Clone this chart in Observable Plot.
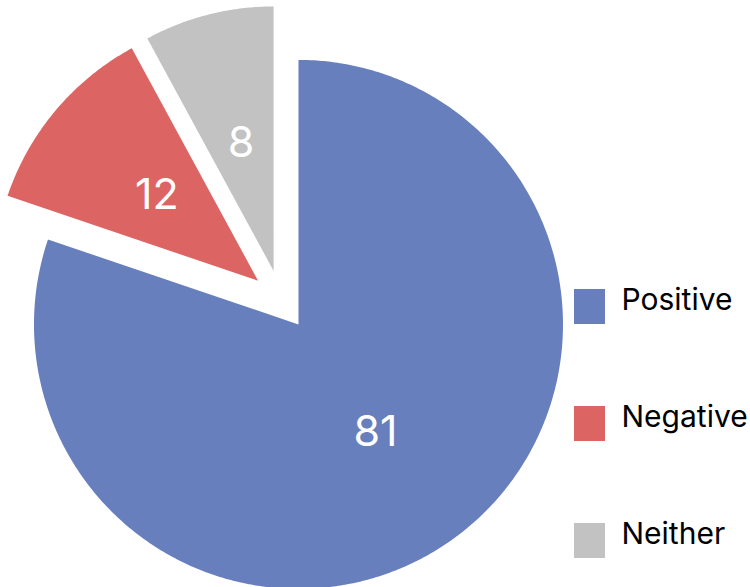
<!DOCTYPE html>
<html><head><meta charset="utf-8">
<script src="https://cdn.jsdelivr.net/npm/d3@7"></script>
<script src="https://cdn.jsdelivr.net/npm/@observablehq/plot@0.6"></script>
<style>html,body{margin:0;padding:0;background:#fff;overflow:hidden}</style>
</head><body><div id="chart"></div>
<script>
const categories = ["Positive", "Negative", "Neither"];
const values = [81, 12, 8];
const colors = ["#687fbd", "#dc6564", "#c2c2c2"];

const W = 750, H = 587;
const cx = 280.5, cy = 299.5, R = 264.5, explode = 30, labelFrac = 0.5;
const legendX = 574, legendTop = 289, legendStep = 117, swW = 31, swH = 35, legendTextX = 621;

const arcs = d3.pie().sort(null).value(d => d)(values);
const slicePts = [];
const labels = [];
arcs.forEach((a, i) => {
  const cat = categories[i];
  const mid = (a.startAngle + a.endAngle) / 2;
  const ox = cx + explode * Math.sin(mid), oy = cy - explode * Math.cos(mid);
  slicePts.push({cat, x: ox, y: oy});
  const n = Math.max(2, Math.ceil((a.endAngle - a.startAngle) / (Math.PI / 360)));
  for (let k = 0; k <= n; k++) {
    const t = a.startAngle + (a.endAngle - a.startAngle) * k / n;
    slicePts.push({cat, x: ox + R * Math.sin(t), y: oy - R * Math.cos(t)});
  }
  labels.push({cat, value: values[i], x: ox + R * labelFrac * Math.sin(mid), y: oy - R * labelFrac * Math.cos(mid)});
});

const legend = categories.map((cat, i) => ({
  cat,
  x1: legendX, x2: legendX + swW,
  y1: legendTop + i * legendStep, y2: legendTop + i * legendStep + swH,
  tx: legendTextX, ty: legendTop + i * legendStep + 11
}));

const chart = Plot.plot({
  width: W, height: H, margin: 0,
  x: {type: "linear", domain: [0, W], range: [0, W], axis: null},
  y: {type: "linear", domain: [0, H], range: [0, H], axis: null},
  color: {domain: categories, range: colors},
  style: {fontFamily: "Inter, 'Open Sans', sans-serif", background: "#fff"},
  marks: [
    Plot.line(slicePts, {x: "x", y: "y", z: "cat", fill: "cat", stroke: "none", curve: "linear-closed"}),
    Plot.text(labels, {x: "x", y: "y", text: d => String(d.value), fill: "white", fontSize: 43}),
    Plot.rect(legend, {x1: "x1", x2: "x2", y1: "y1", y2: "y2", fill: "cat"}),
    Plot.text(legend, {x: "tx", y: "ty", text: "cat", textAnchor: "start", fontSize: 30, fill: "#000"})
  ]
});
document.getElementById("chart").appendChild(chart);
</script>
</body></html>
